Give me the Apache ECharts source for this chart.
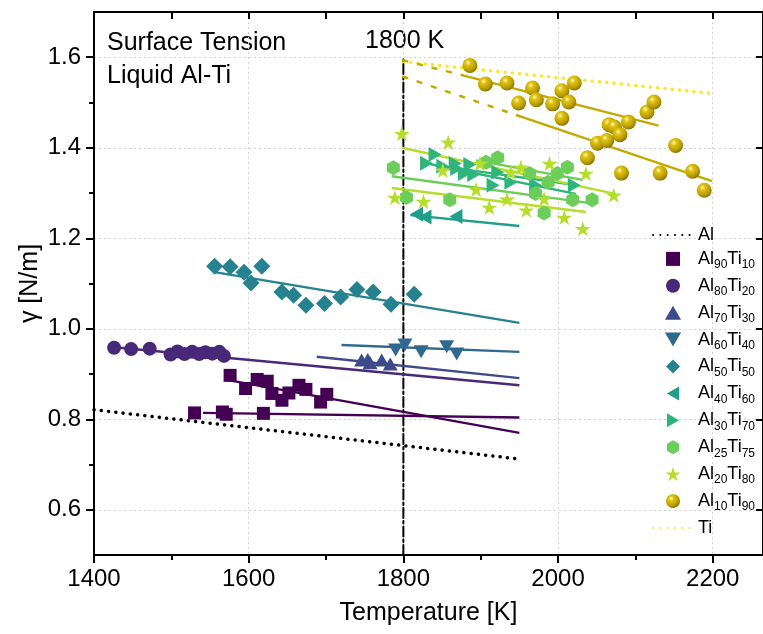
<!DOCTYPE html>
<html>
<head>
<meta charset="utf-8">
<script src="https://cdn.jsdelivr.net/npm/echarts@6/dist/echarts.min.js"></script>
<style>
  html, body { margin: 0; padding: 0; background: #fff; }
  #chart { width: 763px; height: 634px; }
</style>
</head>
<body>
<div id="chart"></div>
<script>
// Axis ticks and labels
const xMajorTicks = [1400, 1600, 1800, 2000, 2200];
const xMinorTicks = [1500, 1700, 1900, 2100];
const xTopTicks = [1400, 1500, 1600, 1700, 1800, 1900, 2000, 2100, 2200];
const yMajorTicks = [0.6, 0.8, 1.0, 1.2, 1.4, 1.6];
const yMinorTicks = [0.7, 0.9, 1.1, 1.3, 1.5];

// Legend order
const seriesNames = ['Al', 'Al90Ti10', 'Al80Ti20', 'Al70Ti30', 'Al60Ti40', 'Al50Ti50',
  'Al40Ti60', 'Al30Ti70', 'Al25Ti75', 'Al20Ti80', 'Al10Ti90', 'Ti'];

// Pure elements: linear surface tension, [T (K), gamma (N/m)]
const pureAl = [[1400, 0.821], [1950, 0.712]];
const pureTi = [[1800, 1.590], [2200, 1.520]];
const line1800 = [[1800, 0.5], [1800, 1.595]];

// Measured points, [T (K), gamma (N/m)]
const al90ti10 = [[1530, 0.814], [1566, 0.816], [1571, 0.811], [1619, 0.813],
  [1576, 0.897], [1596, 0.868], [1611, 0.888], [1624, 0.884], [1630, 0.857],
  [1643, 0.842], [1652, 0.858], [1665, 0.875], [1674, 0.866], [1693, 0.838], [1701, 0.855]];
const al80ti20 = [[1426, 0.958], [1448, 0.955], [1472, 0.956], [1499, 0.943], [1508, 0.950],
  [1517, 0.944], [1527, 0.949], [1536, 0.944], [1544, 0.948], [1553, 0.945], [1562, 0.949], [1568, 0.940]];
const al70ti30 = [[1746, 0.931], [1754, 0.932], [1757, 0.925], [1772, 0.931], [1783, 0.922]];
const al60ti40 = [[1790, 0.953], [1802, 0.964], [1823, 0.949], [1856, 0.960], [1869, 0.944]];
const al50ti50 = [[1556, 1.138], [1576, 1.137], [1594, 1.125], [1617, 1.138], [1603, 1.101],
  [1643, 1.081], [1658, 1.074], [1674, 1.052], [1698, 1.056], [1719, 1.070], [1740, 1.087],
  [1761, 1.081], [1784, 1.054], [1814, 1.076]];
const al40ti60 = [[1817, 1.253], [1828, 1.247], [1868, 1.248]];
const al30ti70 = [[1841, 1.385], [1830, 1.366], [1851, 1.359], [1867, 1.365], [1869, 1.354],
  [1886, 1.363], [1879, 1.343], [1891, 1.341], [1916, 1.317], [1922, 1.346], [1939, 1.324],
  [1971, 1.317], [2021, 1.317]];
const al25ti75 = [[1787, 1.356], [1804, 1.290], [1860, 1.285], [1907, 1.368], [1922, 1.378],
  [1963, 1.343], [1971, 1.299], [1982, 1.256], [1987, 1.324], [1999, 1.343], [2012, 1.357],
  [2019, 1.285], [2044, 1.285]];
const al20ti80 = [[1798, 1.431], [1858, 1.412], [1851, 1.350], [1899, 1.365], [1939, 1.346],
  [1952, 1.357], [1989, 1.365], [2036, 1.343], [2072, 1.295], [1789, 1.290], [1826, 1.281],
  [1894, 1.308], [1911, 1.268], [1934, 1.286], [1959, 1.262], [1982, 1.287], [2008, 1.246], [2032, 1.221]];
const al10ti90 = [[1886, 1.582], [1906, 1.541], [1934, 1.543], [1967, 1.532], [1949, 1.499],
  [1972, 1.506], [1993, 1.497], [2005, 1.526], [2021, 1.543], [2014, 1.501], [2005, 1.465],
  [2066, 1.451], [2073, 1.446], [2091, 1.457], [2080, 1.429], [2115, 1.479], [2124, 1.501],
  [2051, 1.410], [2063, 1.416], [2038, 1.378], [2082, 1.344], [2132, 1.344], [2152, 1.405],
  [2174, 1.348], [2189, 1.306]];

// Linear fits, [T (K), gamma (N/m)] at both ends
const fitAl90Ti10a = [[1541, 0.814], [1950, 0.804]];
const fitAl90Ti10b = [[1568, 0.888], [1950, 0.770]];
const fitAl80Ti20 = [[1426, 0.959], [1950, 0.875]];
const fitAl70Ti30 = [[1688, 0.938], [1950, 0.891]];
const fitAl60Ti40 = [[1720, 0.964], [1950, 0.949]];
const fitAl50Ti50 = [[1556, 1.125], [1950, 1.013]];
const fitAl40Ti60 = [[1809, 1.251], [1950, 1.227]];
const fitAl30Ti70a = [[1823, 1.368], [2023, 1.298]];
const fitAl30Ti70b = [[1841, 1.361], [2025, 1.317]];
const fitAl25Ti75a = [[1785, 1.337], [2049, 1.276]];
const fitAl25Ti75b = [[1894, 1.372], [2032, 1.329]];
const fitAl20Ti80a = [[1798, 1.400], [2074, 1.298]];
const fitAl20Ti80b = [[1785, 1.311], [2036, 1.258]];
const fitAl10Ti90a = [[1877, 1.560], [2130, 1.449]];
const fitAl10Ti90b = [[1950, 1.470], [2199, 1.326]];
const extAl10Ti90a = [[1800, 1.593], [1877, 1.560]];
const extAl10Ti90b = [[1800, 1.557], [1950, 1.470]];

const FONT = "'Liberation Sans', Arial, sans-serif";
const C = {
  al: '#000000',
  a90: '#440154', a80: '#482878', a70: '#3e4a89', a60: '#31688e', a50: '#26828e',
  a40: '#1f9e89', a30: '#2fb47c', a25: '#6ccd5a', a20: '#b5de2b', a10: '#c4a900',
  ti: '#fde725'
};
// Marker outlines (kept as paths so legend icons keep their proportions)
const SQUARE = 'path://M-1,-1 L1,-1 L1,1 L-1,1 Z';
const TRI_UP = 'path://M0,0 L1,1.732 L-1,1.732 Z';
const TRI_DOWN = 'path://M-1,0 L1,0 L0,1.732 Z';
const TRI_LEFT = 'path://M0,1 L1.732,0 L1.732,2 Z';
const TRI_RIGHT = 'path://M0,0 L1.732,1 L0,2 Z';
const DIAMOND = 'path://M0,-1 L1,0 L0,1 L-1,0 Z';
const HEX = 'path://M0,-1 L0.866,-0.5 L0.866,0.5 L0,1 L-0.866,0.5 L-0.866,-0.5 Z';
const STAR = 'path://M0,-1 L0.2245,-0.309 L0.951,-0.309 L0.363,0.118 L0.588,0.809 L0,0.382 L-0.588,0.809 L-0.363,0.118 L-0.951,-0.309 L-0.2245,-0.309 Z';
const SPHERE = {
  type: 'radial', x: 0.38, y: 0.32, r: 0.72,
  colorStops: [
    { offset: 0, color: '#fff7c4' },
    { offset: 0.25, color: '#e0c410' },
    { offset: 0.7, color: '#b99c00' },
    { offset: 1, color: '#826d00' }
  ]
};

function scatter(name, data, color, symbol, size) {
  return {
    name, type: 'scatter', data, symbol, symbolSize: size,
    symbolKeepAspect: true, itemStyle: { color, opacity: 1 }, z: 4
  };
}
function fit(name, data, color, width, dash) {
  return {
    name, type: 'line', data, symbol: 'none', silent: true, z: 3,
    itemStyle: { color: 'rgba(0,0,0,0)' },
    lineStyle: { color, width: width || 2.4, type: dash || 'solid', cap: dash ? 'round' : 'butt' }
  };
}

const series = [
  fit('Al', pureAl, C.al, 3.5, [0.1, 7.2]),
  scatter('Al90Ti10', al90ti10, C.a90, SQUARE, 13),
  scatter('Al80Ti20', al80ti20, C.a80, 'circle', 14),
  scatter('Al70Ti30', al70ti30, C.a70, TRI_UP, 15),
  scatter('Al60Ti40', al60ti40, C.a60, TRI_DOWN, 15),
  scatter('Al50Ti50', al50ti50, C.a50, DIAMOND, 17),
  scatter('Al40Ti60', al40ti60, C.a40, TRI_LEFT, 15),
  scatter('Al30Ti70', al30ti70, C.a30, TRI_RIGHT, 15),
  scatter('Al25Ti75', al25ti75, C.a25, HEX, 15),
  scatter('Al20Ti80', al20ti80, C.a20, STAR, 16),
  scatter('Al10Ti90', al10ti90, SPHERE, 'circle', 15),
  fit('Ti', pureTi, C.ti, 3.5, [0.1, 7.2]),
  fit('T1800', line1800, '#000', 2, [10, 3, 2.5, 3]),
  fit('fitAl90Ti10a', fitAl90Ti10a, C.a90),
  fit('fitAl90Ti10b', fitAl90Ti10b, C.a90),
  fit('fitAl80Ti20', fitAl80Ti20, C.a80),
  fit('fitAl70Ti30', fitAl70Ti30, C.a70),
  fit('fitAl60Ti40', fitAl60Ti40, C.a60),
  fit('fitAl50Ti50', fitAl50Ti50, C.a50),
  fit('fitAl40Ti60', fitAl40Ti60, C.a40),
  fit('fitAl30Ti70a', fitAl30Ti70a, C.a30),
  fit('fitAl30Ti70b', fitAl30Ti70b, C.a30),
  fit('fitAl25Ti75a', fitAl25Ti75a, C.a25),
  fit('fitAl25Ti75b', fitAl25Ti75b, C.a25),
  fit('fitAl20Ti80a', fitAl20Ti80a, C.a20),
  fit('fitAl20Ti80b', fitAl20Ti80b, C.a20),
  fit('fitAl10Ti90a', fitAl10Ti90a, C.a10),
  fit('fitAl10Ti90b', fitAl10Ti90b, C.a10),
  fit('extAl10Ti90a', extAl10Ti90a, C.a10, 2.5, [4, 11]),
  fit('extAl10Ti90b', extAl10Ti90b, C.a10, 2.5, [4, 11])
];

const axisBlack = { color: '#000', width: 2 };
const gridLine = { show: true, lineStyle: { color: '#d2d2d2', type: [2, 3], width: 1 } };
const X_MIN = 1400, X_MAX = 2265, Y_MIN = 0.5, Y_MAX = 1.7;

const option = {
  animation: false,
  backgroundColor: '#fff',
  textStyle: { fontFamily: FONT },
  grid: { left: 94, top: 12, width: 672.5, height: 543 },
  xAxis: [
    {
      type: 'value', min: X_MIN, max: X_MAX, interval: 200, position: 'bottom',
      name: 'Temperature [K]', nameLocation: 'middle', nameGap: 46, nameMoveOverlap: false,
      nameTextStyle: { fontSize: 25, color: '#000', fontFamily: FONT },
      axisLine: { lineStyle: axisBlack },
      axisTick: { customValues: xMajorTicks, length: 8, lineStyle: axisBlack },
      axisLabel: { customValues: xMajorTicks, fontSize: 24, color: '#000', margin: 12, fontFamily: FONT,
        formatter: v => String(v) },
      splitLine: gridLine
    },
    {
      type: 'value', min: X_MIN, max: X_MAX, position: 'bottom',
      axisLine: { show: false },
      axisTick: { customValues: xMinorTicks, length: 5, lineStyle: axisBlack },
      axisLabel: { show: false }, splitLine: { show: false }
    },
    {
      type: 'value', min: X_MIN, max: X_MAX, position: 'top',
      axisLine: { lineStyle: axisBlack },
      axisTick: { customValues: xTopTicks, inside: true, length: 7, lineStyle: axisBlack },
      axisLabel: { show: false }, splitLine: { show: false }
    }
  ],
  yAxis: [
    {
      type: 'value', min: Y_MIN, max: Y_MAX, position: 'left',
      name: 'γ [N/m]', nameLocation: 'middle', nameGap: 51, nameMoveOverlap: false,
      nameTextStyle: { fontSize: 25, color: '#000', fontFamily: FONT },
      axisLine: { lineStyle: axisBlack },
      axisTick: { customValues: yMajorTicks, length: 8, lineStyle: axisBlack },
      axisLabel: { customValues: yMajorTicks, fontSize: 24, color: '#000', margin: 13, fontFamily: FONT,
        formatter: v => v.toFixed(1) },
      splitLine: gridLine
    },
    {
      type: 'value', min: Y_MIN, max: Y_MAX, position: 'left',
      axisLine: { show: false },
      axisTick: { customValues: yMinorTicks, length: 5, lineStyle: axisBlack },
      axisLabel: { show: false }, splitLine: { show: false }
    },
    {
      type: 'value', min: Y_MIN, max: Y_MAX, position: 'right',
      axisLine: { lineStyle: axisBlack },
      axisTick: { customValues: yMajorTicks, inside: true, length: 7, lineStyle: axisBlack },
      axisLabel: { show: false }, splitLine: { show: false }
    }
  ],
  legend: {
    data: seriesNames,
    orient: 'vertical', left: 652, top: 226, padding: 0,
    itemWidth: 40, itemHeight: 14, itemGap: 5.9,
    selectedMode: false,
    formatter: name => name.replace(/([A-Za-z]+)(\d*)/g,
      (m, el, num) => '{m|' + el + '}' + (num ? '{s|' + num + '}' : '')),
    textStyle: {
      color: '#000', fontFamily: FONT, fontSize: 18,
      rich: {
        m: { fontSize: 18, lineHeight: 24, verticalAlign: 'middle', color: '#000', fontFamily: FONT },
        s: { fontSize: 12, lineHeight: 24, verticalAlign: 'bottom', color: '#000', fontFamily: FONT }
      }
    }
  },
  graphic: [
    { type: 'text', left: 107, top: 31, style: { text: 'Surface Tension', font: "25px 'Liberation Sans', Arial, sans-serif", fill: '#000' } },
    { type: 'text', left: 107, top: 64, style: { text: 'Liquid Al-Ti', font: "25px 'Liberation Sans', Arial, sans-serif", fill: '#000' } },
    { type: 'text', left: 365, top: 29, style: { text: '1800 K', font: "25px 'Liberation Sans', Arial, sans-serif", fill: '#000' } }
  ],
  series
};

const chart = echarts.init(document.getElementById('chart'), null, { renderer: 'canvas' });
chart.setOption(option);
</script>
</body>
</html>
